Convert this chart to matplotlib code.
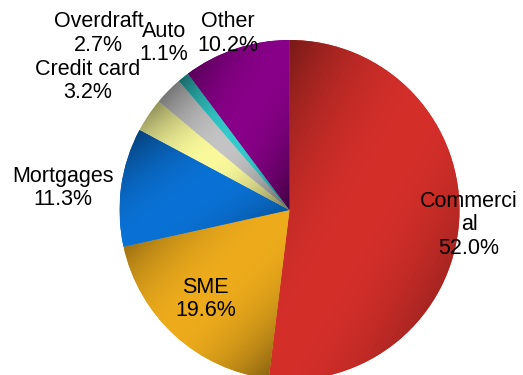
import numpy as np
import matplotlib.pyplot as plt
from matplotlib.colors import to_rgb

plt.rcParams['font.family'] = ['Liberation Sans', 'DejaVu Sans']

segments = ['Commerci\nal', 'SME', 'Mortgages', 'Credit card', 'Overdraft', 'Auto', 'Other']
shares = [52.0, 19.6, 11.3, 3.2, 2.7, 1.1, 10.2]
colors = ['#d52f2a', '#eeac1c', '#0a72d6', '#fafa9c', '#c4c4c4', '#33cccc', '#880088']
# label placement: distance in pie radii and a small angular nudge in degrees
label_dist = [1.06, 0.72, 1.34, 1.41, 1.53, 1.23, 1.1]
label_nudge = [-1.2, -1.0, 2.3, 1.4, 1.8, -1.8, 0.8]

fig = plt.figure(figsize=(5.23, 3.75), dpi=100)
ax = fig.add_axes([0, 0, 1, 1])
R = 170.0
cx, cy = 289.5, 210.0


def set_view():
    ax.set_xlim(-cx / R, (523 - cx) / R)
    ax.set_ylim(-(375 - cy) / R, cy / R)


set_view()
ax.set_aspect('equal')
ax.axis('off')

wedges, _ = ax.pie(shares, colors=colors, startangle=90, counterclock=False,
                   radius=1, center=(0, 0), wedgeprops=dict(linewidth=0))


def shade(base, n=200):
    # diagonal sheen: dark at the top-left and bottom-right corners of the slice
    yy, xx = np.mgrid[0:n, 0:n] / (n - 1)
    t = (xx + yy) / 2
    f = 1 - 0.55 * np.abs(2 * t - 1) ** 2
    rgb = np.array(to_rgb(base))
    return np.clip(f[..., None] * rgb, 0, 1)


for w, c in zip(wedges, colors):
    bb = w.get_path().get_extents(w.get_patch_transform())
    im = ax.imshow(shade(c), extent=[bb.x0, bb.x1, bb.y0, bb.y1], origin='upper',
                   interpolation='bilinear', zorder=w.get_zorder() + 0.1)
    im.set_clip_path(w)

set_view()
ax.set_aspect('equal')

for w, name, val, d, nd in zip(wedges, segments, shares, label_dist, label_nudge):
    mid = np.deg2rad((w.theta1 + w.theta2) / 2 + nd)
    ax.text(d * np.cos(mid), d * np.sin(mid), f'{name}\n{val:.1f}%',
            ha='center', va='center', fontsize=15.5, linespacing=1.15, zorder=5)

fig.savefig('out.png', dpi=100)
